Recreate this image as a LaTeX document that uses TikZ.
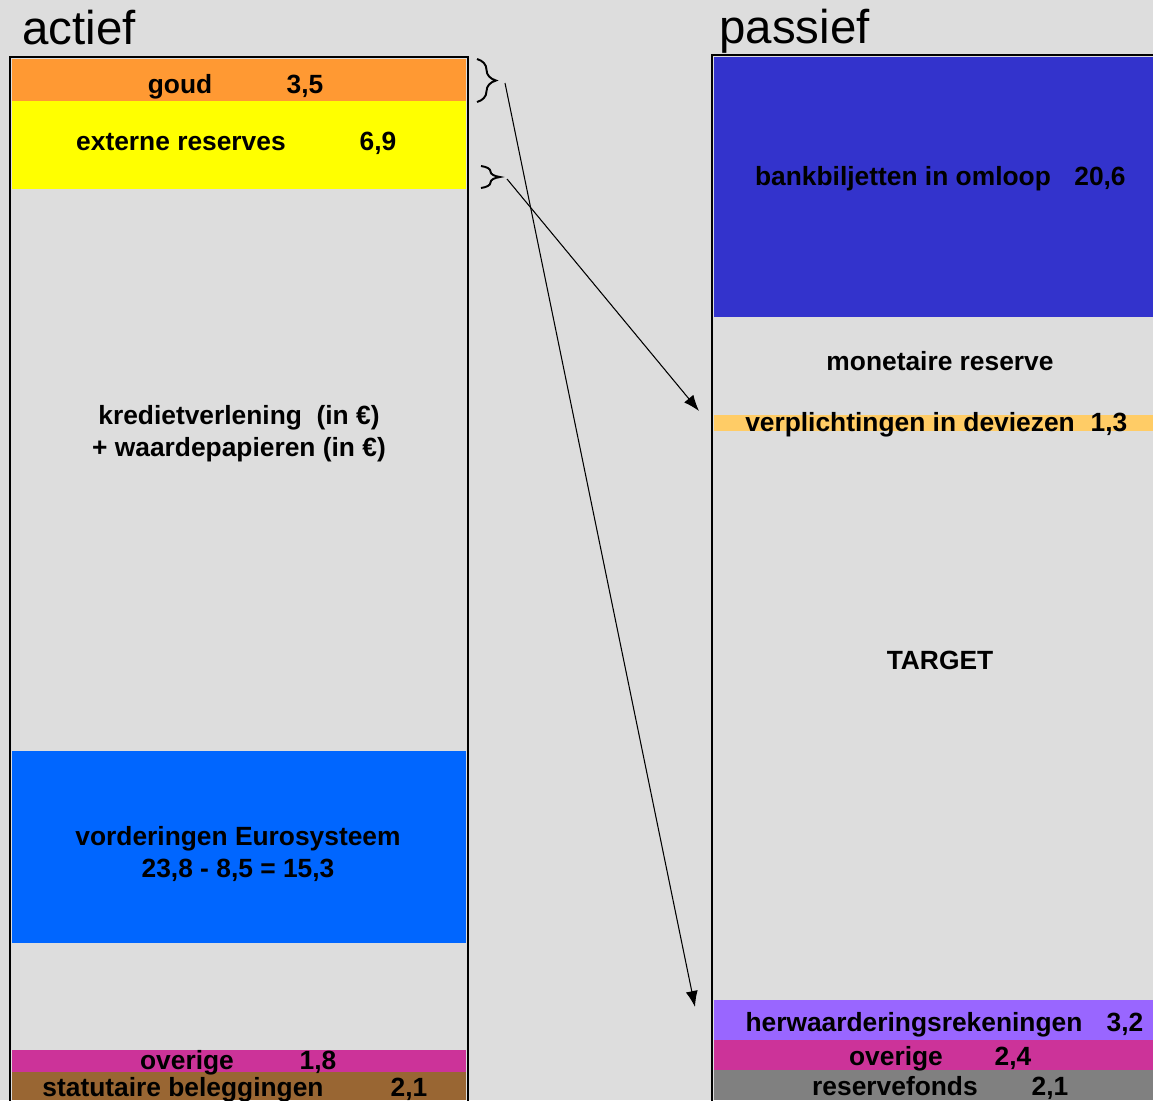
\documentclass[tikz,border=0pt]{standalone}
\usepackage{fontspec}
\setmainfont{Liberation Sans}
\usetikzlibrary{arrows.meta,decorations.pathreplacing}

\definecolor{achtergrond}{HTML}{DDDDDD}
\definecolor{goudkleur}{HTML}{FF9933}
\definecolor{geel}{HTML}{FFFF00}
\definecolor{eurblauw}{HTML}{0066FF}
\definecolor{magenta}{HTML}{CC3399}
\definecolor{bruin}{HTML}{996633}
\definecolor{bankblauw}{HTML}{3333CC}
\definecolor{deviezen}{HTML}{FFCC66}
\definecolor{lila}{HTML}{9966FF}
\definecolor{grijs}{HTML}{808080}

\begin{document}
\begin{tikzpicture}[
    x=0.02cm, y=-0.02cm,
    lbl/.style={font=\bfseries\fontsize{15}{18}\selectfont, inner sep=0pt, anchor=base},
    blok/.style={font=\bfseries\fontsize{15}{18.4}\selectfont, inner sep=0pt, align=center},
    kop/.style={font=\fontsize{27}{30}\selectfont, inner sep=0pt, anchor=base west},
    kader/.style={draw=black, line width=1.2pt},
    accolade/.style={decorate, decoration={brace, amplitude=0.38cm}, line width=1.1pt},
    arrow/.style={-{Latex[length=0.32cm, width=0.24cm]}, line width=0.6pt}
]
    \useasboundingbox (0,0) rectangle (1153,1100);
    \clip (0,0) rectangle (1153,1100);
    \fill[achtergrond] (0,0) rectangle (1153,1100);

    % Titles
    \node[kop] (actief) at (22,44) {actief};
    \node[kop] (passief) at (719,43) {passief};

    % Actief
    \fill[goudkleur] (12,59) rectangle (466,101);
    \fill[geel] (12,101) rectangle (466,189);
    \fill[eurblauw] (12,751) rectangle (466,943);
    \fill[magenta] (12,1050) rectangle (466,1072);
    \fill[bruin] (12,1072) rectangle (466,1100);
    \draw[kader] (10,57) rectangle (468,1120);

    \node[lbl] (goud) at (180,93) {goud};
    \node[lbl] (goudw) at (305,93) {3,5};
    \node[lbl] (extern) at (181,150) {externe reserves};
    \node[lbl] (externw) at (378,150) {6,9};
    \node[blok] (krediet) at (239,434) {kredietverlening\ \ (in €)\\+ waardepapieren (in €)};
    \node[blok] (vordering) at (238,854) {vorderingen Eurosysteem\\23,8 - 8,5 = 15,3};
    \node[lbl] (overigA) at (187,1069) {overige};
    \node[lbl] (overigAw) at (318,1069) {1,8};
    \node[lbl] (statutair) at (183,1096) {statutaire beleggingen};
    \node[lbl] (statutairw) at (409,1096) {2,1};

    % Passief
    \fill[bankblauw] (714,57) rectangle (1153,317);
    \fill[deviezen] (714,415) rectangle (1153,431);
    \fill[lila] (714,1000) rectangle (1153,1040);
    \fill[magenta] (714,1040) rectangle (1153,1070);
    \fill[grijs] (714,1070) rectangle (1153,1100);
    \draw[kader] (712,55) rectangle (1170,1120);

    \node[lbl] (bank) at (903,185) {bankbiljetten in omloop};
    \node[lbl] (bankw) at (1100,185) {20,6};
    \node[lbl] (monetair) at (940,370) {monetaire reserve};
    \node[lbl] (deviez) at (910,431) {verplichtingen in deviezen};
    \node[lbl] (deviezw) at (1109,431) {1,3};
    \node[lbl] (target) at (940,669) {TARGET};
    \node[lbl] (herw) at (914,1031) {herwaarderingsrekeningen};
    \node[lbl] (herww) at (1125,1031) {3,2};
    \node[lbl] (overigP) at (896,1065) {overige};
    \node[lbl] (overigPw) at (1013,1065) {2,4};
    \node[lbl] (reserve) at (895,1095) {reservefonds};
    \node[lbl] (reservew) at (1050,1095) {2,1};

    % Braces and arrows
    \draw[accolade] (477,59) -- (477,102);
    \draw[accolade] (481,166) -- (481,188);
    \coordinate (vangoud) at (505,83);
    \coordinate (vanreserve) at (507,179);
    \coordinate (naarherw) at (695,1007);
    \coordinate (naardeviez) at (699,411);

    \draw[arrow] (vangoud) -- (naarherw);
    \draw[arrow] (vanreserve) -- (naardeviez);
\end{tikzpicture}
\end{document}
